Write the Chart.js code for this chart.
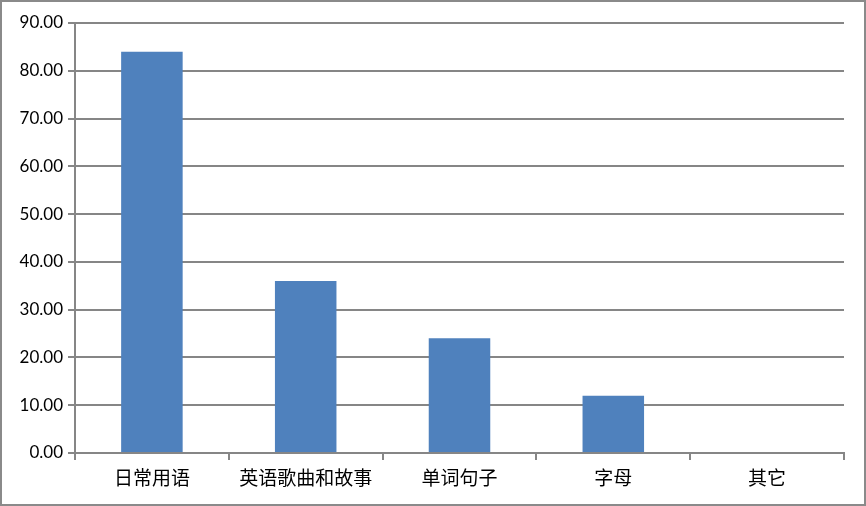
<!DOCTYPE html>
<html>
<head>
<meta charset="utf-8">
<script src="https://cdn.jsdelivr.net/npm/chart.js@4/dist/chart.umd.min.js"></script>
<style>
  html, body { margin: 0; padding: 0; background: #fff; }
  #frame { width: 866px; height: 506px; box-sizing: border-box; border: 2px solid #8a8a8a; background: #fff; }
  #frame canvas { display: block; }
</style>
</head>
<body>
<div id="frame"><canvas id="chart" width="862" height="502"></canvas></div>
<script>
'use strict';

const categories = ['日常用语', '英语歌曲和故事', '单词句子', '字母', '其它'];
const values = [84, 36, 24, 12, 0];
const yTicks = [0, 10, 20, 30, 40, 50, 60, 70, 80, 90];

const gridColor = '#868686';

new Chart(document.getElementById('chart'), {
  type: 'bar',
  data: {
    labels: categories,
    datasets: [{ data: values, backgroundColor: '#4f81bd', borderWidth: 0, categoryPercentage: 1, barPercentage: 0.4 }],
  },
  options: {
    responsive: false, animation: false,
    layout: { padding: { top: 21, right: 20, left: 0, bottom: 0 } },
    plugins: { legend: { display: false }, tooltip: { enabled: false } },
    scales: {
      x: {
        afterFit: s => { s.height = 51; },
        grid: { offset: true, drawOnChartArea: false, color: gridColor, lineWidth: 2, tickLength: 7 },
        border: { display: true, color: gridColor, width: 2 },
        ticks: { color: '#000', padding: 6, font: { family: '"Noto Sans CJK SC"', size: 19 } },
      },
      y: {
        min: yTicks[0], max: yTicks[yTicks.length - 1],
        afterFit: s => { s.width = 73; },
        afterBuildTicks: s => { s.ticks = yTicks.map(v => ({ value: v })); },
        grid: { color: gridColor, lineWidth: 2, tickLength: 7 },
        border: { display: true, color: gridColor, width: 2 },
        ticks: { color: '#000', padding: 5, font: { family: 'Lato', size: 17 }, callback: v => Number(v).toFixed(2) },
      },
    },
  },
});
</script>
</body>
</html>
